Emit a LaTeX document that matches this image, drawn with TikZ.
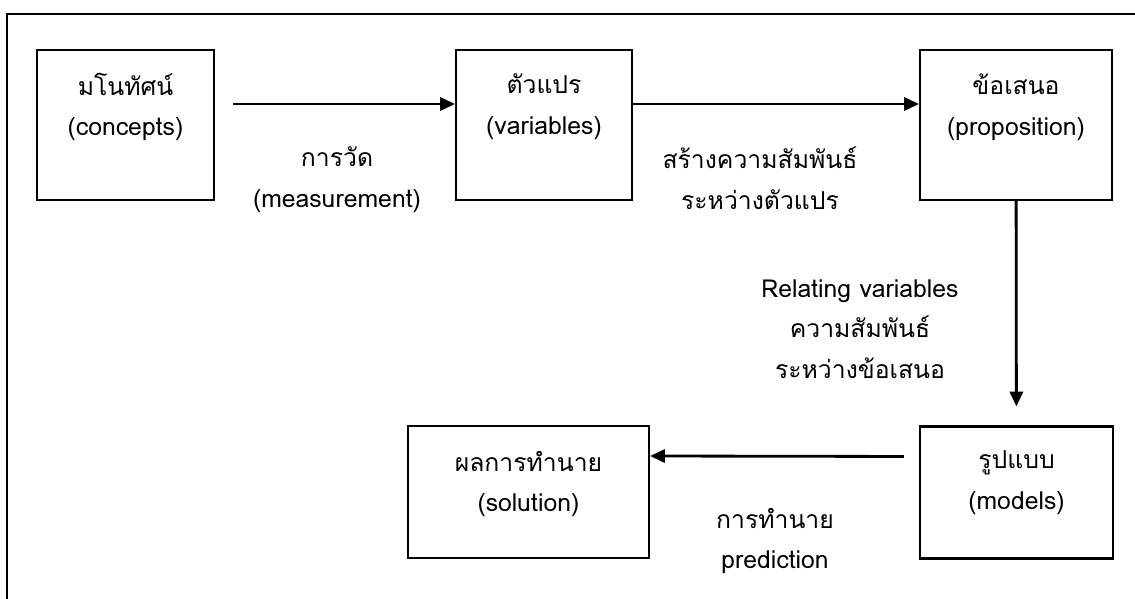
\documentclass[tikz,border=0pt]{standalone}
\usepackage{fontspec}
\setmainfont{Loma}[Script=Thai]
\usetikzlibrary{arrows.meta, positioning}

\tikzset{
  box/.style={draw, line width=1.5pt, minimum height=3.75cm},
  txt/.style={align=center, font=\fontsize{17.6}{29}\selectfont, inner sep=0pt},
  arr/.style={line width=2pt, -{Triangle[length=0.37cm, width=0.33cm]}},
  frame/.style={line width=1.5pt}
}

\begin{document}
\begin{tikzpicture}[x=0.025cm, y=-0.025cm]
  \useasboundingbox (0,0) rectangle (1135,598);
  % outer frame (cut at the page edge)
  \draw[frame] (1145,14) -- (7,14) -- (7,610);

  % boxes
  \node[box, minimum width=4.425cm] (concepts) at (125.5,125) {};
  \node[box, minimum width=4.4cm] (variables) at (544,125) {};
  \node[box, minimum width=4.8cm] (proposition) at (1016,125) {};
  \node[box, minimum width=4.825cm, minimum height=3.3cm] (models) at (1016.5,492.5) {};
  \node[box, minimum width=6.025cm, minimum height=3.3cm] (solution) at (528.5,492) {};

  % box texts
  \node[txt] (conceptsT) at (125.5,107) {มโนทัศน์\\(concepts)};
  \node[txt] (variablesT) at (544,107) {ตัวแปร\\(variables)};
  \node[txt] (propositionT) at (1016,107) {ข้อเสนอ\\(proposition)};
  \node[txt] (modelsT) at (1016.5,483) {รูปแบบ\\(models)};
  \node[txt] (solutionT) at (528.5,484) {ผลการทำนาย\\(solution)};

  % connectors
  \draw[arr, shorten <=0.45cm] ([yshift=0.525cm]concepts.east) -- ([yshift=0.525cm]variables.west);
  \draw[arr] ([yshift=0.525cm]variables.east) -- ([yshift=0.525cm]proposition.west);
  \draw[arr, shorten >=0.475cm] (proposition) -- (models);
  \draw[arr, shorten <=0.375cm] ([yshift=0.9cm]models.west) -- ([yshift=0.9cm]solution.east);

  % connector labels
  \node[txt] (measureL) at (337,180) {การวัด\\(measurement)};
  \node[txt] (relateL) at (760,178) {สร้างความสัมพันธ์\\ระหว่างตัวแปร};
  \node[txt] (relpropL) at (860,329) {Relating variables\\ความสัมพันธ์\\ระหว่างข้อเสนอ};
  \node[txt] (predictL) at (775,541) {การทำนาย\\prediction};
\end{tikzpicture}
\end{document}
